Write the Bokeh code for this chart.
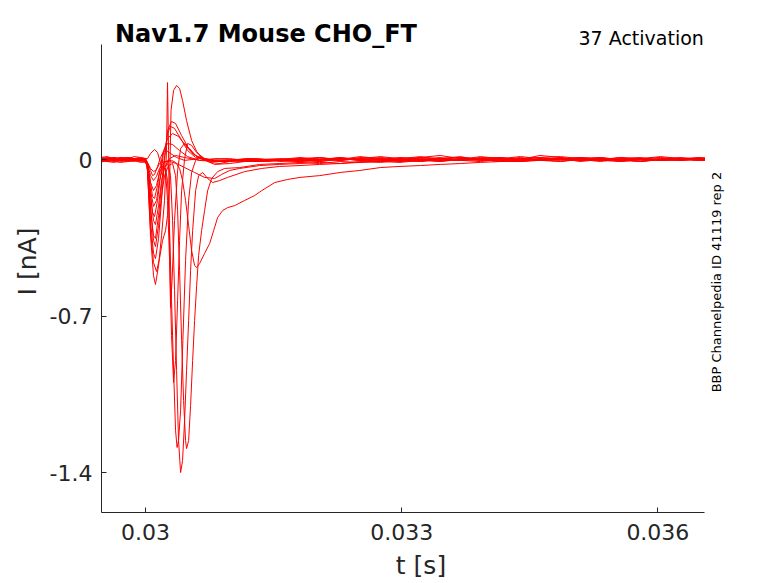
import math
from bokeh.plotting import figure
from bokeh.models import Range1d, FixedTicker, Label
from bokeh.embed import file_html
from bokeh.resources import INLINE

# ---------------- data (time in ms, current in nA) ----------------
t_pre = [29.47, 29.55, 29.63, 29.71, 29.79, 29.87, 29.94, 30.00]
t_post = [31.81, 32.04, 32.28, 32.51, 32.75, 32.98, 33.22, 33.45, 33.69, 33.92, 34.16,
          34.39, 34.62, 34.86, 35.09, 35.33, 35.56, 35.80, 36.03, 36.27, 36.50, 36.55]

e1_pre = [0.004, 0.009, 0.004, 0.000, 0.009, 0.004, 0.000, 0.004]
e1_t = [30.023, 30.059, 30.106, 30.141, 30.176, 30.200, 30.235, 30.282, 30.352, 30.458, 30.634, 30.810, 30.986, 31.162, 31.338, 31.573]
e1_i = [0.004, 0.027, 0.045, 0.031, -0.013, -0.036, -0.027, 0.004, 0.018, 0.009, -0.004, 0.004, 0.004, -0.004, -0.009, 0.000]
e1_post = [0.004, -0.004, 0.009, 0.000, -0.009, 0.004, 0.013, 0.000, -0.004, 0.009, 0.004, -0.009, 0.000, 0.009, -0.004, 0.004, 0.000, -0.009, 0.004, 0.009, 0.000, 0.004]

e2_pre = [-0.004, 0.000, 0.004, -0.004, 0.000, 0.004, -0.004, 0.000]
e2_t = [30.023, 30.059, 30.082, 30.106, 30.141, 30.176, 30.211, 30.246, 30.293, 30.364, 30.458, 30.634, 30.810, 30.986, 31.162, 31.338, 31.573]
e2_i = [-0.013, -0.049, -0.072, -0.067, -0.031, 0.009, 0.036, 0.040, 0.027, 0.009, -0.004, 0.004, -0.009, -0.004, 0.004, 0.004, -0.009]
e2_post = [-0.004, 0.009, 0.000, 0.013, 0.004, -0.004, 0.009, 0.018, 0.004, 0.000, -0.009, 0.004, 0.009, 0.000, 0.004, -0.004, 0.009, 0.004, 0.000, -0.004, 0.004, 0.000]

e3_pre = [0.009, 0.004, 0.000, 0.004, 0.009, 0.000, 0.004, 0.000]
e3_t = [30.023, 30.059, 30.082, 30.106, 30.141, 30.176, 30.211, 30.258, 30.317, 30.399, 30.493, 30.634, 30.810, 30.986, 31.162, 31.338, 31.573]
e3_i = [-0.018, -0.103, -0.165, -0.174, -0.116, -0.027, 0.040, 0.072, 0.067, 0.040, 0.013, -0.004, -0.009, -0.009, 0.000, 0.000, 0.004]
e3_post = [0.000, -0.009, 0.004, -0.004, 0.009, 0.000, -0.004, 0.004, 0.013, -0.004, 0.000, 0.009, -0.004, 0.004, 0.000, 0.009, -0.004, 0.004, 0.009, 0.000, -0.004, 0.004]

e4_pre = [0.000, -0.009, -0.004, 0.000, -0.004, -0.009, 0.000, -0.004]
e4_t = [30.023, 30.059, 30.082, 30.106, 30.141, 30.176, 30.211, 30.258, 30.317, 30.387, 30.469, 30.563, 30.692, 30.810, 30.986, 31.162, 31.338, 31.573]
e4_i = [-0.027, -0.161, -0.237, -0.255, -0.183, -0.072, 0.031, 0.094, 0.116, 0.103, 0.063, 0.022, 0.000, -0.009, -0.004, -0.009, -0.004, 0.000]
e4_post = [0.009, 0.000, -0.004, 0.004, 0.000, 0.009, 0.004, -0.004, 0.000, 0.013, 0.004, 0.000, 0.018, 0.009, -0.004, 0.000, 0.004, 0.009, -0.004, 0.004, 0.009, 0.004]

e5_pre = [0.004, 0.000, 0.009, 0.004, 0.000, 0.004, 0.009, 0.004]
e5_t = [30.023, 30.059, 30.094, 30.117, 30.153, 30.188, 30.223, 30.258, 30.293, 30.340, 30.411, 30.493, 30.587, 30.751, 30.927, 31.162, 31.338, 31.573]
e5_i = [-0.031, -0.228, -0.340, -0.353, -0.250, -0.116, 0.018, 0.116, 0.148, 0.139, 0.094, 0.040, 0.009, -0.004, -0.009, -0.004, -0.009, -0.004]
e5_post = [-0.009, -0.004, 0.004, 0.000, 0.004, -0.009, 0.000, 0.009, -0.004, 0.004, 0.009, -0.004, 0.000, 0.004, -0.009, 0.000, 0.009, -0.004, 0.000, 0.004, -0.004, 0.000]

e6_pre = [-0.009, -0.004, 0.000, -0.009, -0.004, 0.000, -0.004, -0.009]
e6_t = [30.023, 30.059, 30.094, 30.117, 30.153, 30.188, 30.223, 30.258, 30.305, 30.352, 30.423, 30.505, 30.599, 30.751, 30.927, 31.162, 31.338, 31.573]
e6_i = [-0.036, -0.273, -0.420, -0.443, -0.353, -0.183, -0.004, 0.130, 0.170, 0.161, 0.107, 0.049, 0.013, 0.000, -0.004, -0.009, 0.000, -0.004]
e6_post = [0.004, 0.009, -0.004, 0.004, 0.013, 0.004, 0.000, -0.009, 0.004, 0.000, 0.004, 0.013, 0.004, -0.004, 0.004, 0.009, 0.000, 0.004, 0.013, 0.004, 0.000, -0.004]

e7_pre = [0.000, 0.004, -0.004, 0.004, 0.000, -0.004, 0.004, 0.000]
e7_t = [30.023, 30.059, 30.094, 30.117, 30.153, 30.188, 30.223, 30.246, 30.258, 30.270, 30.282, 30.293, 30.311, 30.340, 30.376, 30.411, 30.458, 30.516, 30.587, 30.692, 30.869, 31.103, 31.338, 31.573]
e7_i = [-0.049, -0.340, -0.519, -0.559, -0.474, -0.340, -0.183, 0.040, 0.344, 0.040, -0.362, -0.662, -0.541, -0.273, -0.049, 0.049, 0.072, 0.049, 0.018, -0.004, -0.009, 0.000, -0.004, 0.000]
e7_post = [-0.004, 0.000, 0.009, -0.004, -0.009, 0.000, 0.009, 0.004, -0.004, -0.009, 0.000, 0.004, -0.004, 0.000, 0.009, 0.004, -0.009, 0.000, 0.004, -0.004, 0.004, 0.009]

e8_pre = [0.004, -0.004, 0.000, 0.009, 0.004, 0.000, -0.004, 0.004]
e8_t = [30.023, 30.059, 30.094, 30.129, 30.164, 30.200, 30.235, 30.258, 30.282, 30.299, 30.329, 30.364, 30.399, 30.434, 30.481, 30.540, 30.599, 30.657, 30.751, 30.869, 31.045, 31.221, 31.397, 31.573]
e8_i = [-0.049, -0.318, -0.461, -0.501, -0.443, -0.362, -0.318, -0.250, -0.116, 0.219, 0.309, 0.331, 0.318, 0.264, 0.174, 0.085, 0.036, 0.009, -0.013, -0.018, -0.004, 0.004, -0.004, 0.000]
e8_post = [0.000, 0.004, -0.004, 0.009, 0.004, -0.004, -0.009, 0.004, 0.009, 0.004, -0.004, 0.000, 0.009, 0.013, 0.004, -0.004, 0.000, 0.004, -0.004, 0.000, 0.009, 0.004]

d2_pre = [-0.004, -0.009, -0.013, -0.004, -0.009, -0.004, -0.013, -0.009]
d2_t = [30.023, 30.059, 30.094, 30.129, 30.164, 30.200, 30.235, 30.258, 30.282, 30.305, 30.329, 30.352, 30.376, 30.399, 30.423, 30.458, 30.493, 30.540, 30.599, 30.692, 30.810, 30.986, 31.221, 31.397, 31.573]
d2_i = [-0.022, -0.103, -0.139, -0.116, -0.058, -0.031, -0.049, -0.183, -0.452, -0.787, -0.997, -0.899, -0.631, -0.362, -0.139, 0.004, 0.072, 0.063, 0.031, 0.004, -0.004, 0.000, -0.004, -0.009, -0.004]
d2_post = [-0.009, 0.000, 0.004, -0.004, 0.000, 0.004, -0.004, 0.000, 0.009, 0.000, -0.004, -0.009, 0.000, 0.004, 0.000, -0.009, 0.004, 0.000, -0.004, 0.004, 0.000, -0.004]

d3_pre = [0.009, 0.013, 0.004, 0.009, 0.004, 0.013, 0.009, 0.004]
d3_t = [30.023, 30.059, 30.094, 30.129, 30.164, 30.200, 30.235, 30.258, 30.282, 30.305, 30.329, 30.352, 30.370, 30.387, 30.411, 30.434, 30.469, 30.505, 30.540, 30.587, 30.634, 30.704, 30.810, 30.986, 31.162, 31.338, 31.573]
d3_i = [-0.027, -0.139, -0.210, -0.183, -0.094, -0.040, -0.040, -0.094, -0.318, -0.631, -0.943, -1.212, -1.288, -1.257, -1.122, -0.854, -0.452, -0.183, -0.058, -0.004, 0.018, -0.004, -0.022, -0.018, -0.009, -0.009, -0.004]
d3_post = [-0.004, -0.009, 0.000, 0.004, -0.004, 0.000, 0.004, -0.004, 0.000, 0.004, 0.009, 0.000, -0.004, 0.004, 0.009, 0.000, -0.004, -0.009, 0.000, 0.004, -0.004, 0.000]

d4_pre = [0.000, 0.004, 0.009, 0.000, -0.004, 0.004, 0.000, -0.004]
d4_t = [30.023, 30.059, 30.094, 30.117, 30.153, 30.188, 30.223, 30.258, 30.293, 30.317, 30.340, 30.364, 30.387, 30.411, 30.434, 30.458, 30.481, 30.505, 30.528, 30.552, 30.587, 30.622, 30.669, 30.728, 30.786, 30.869, 30.962, 31.162, 31.361, 31.573]
d4_i = [-0.027, -0.161, -0.273, -0.291, -0.206, -0.094, -0.036, -0.018, -0.072, -0.273, -0.586, -0.943, -1.257, -1.400, -1.346, -1.167, -0.943, -0.720, -0.496, -0.318, -0.139, -0.072, -0.058, -0.085, -0.103, -0.094, -0.080, -0.054, -0.040, -0.031]
d4_post = [-0.027, -0.022, -0.018, -0.013, -0.009, -0.013, -0.004, -0.009, 0.000, -0.004, 0.004, 0.000, -0.004, 0.000, 0.004, -0.004, 0.000, 0.004, -0.004, 0.000, 0.004, 0.000]

d5_pre = [-0.013, -0.004, -0.009, -0.013, -0.009, -0.004, -0.009, -0.013]
d5_t = [30.023, 30.059, 30.094, 30.117, 30.153, 30.188, 30.223, 30.270, 30.317, 30.352, 30.376, 30.399, 30.423, 30.446, 30.469, 30.481, 30.505, 30.528, 30.552, 30.575, 30.599, 30.622, 30.657, 30.692, 30.728, 30.775, 30.845, 30.927, 31.103, 31.338, 31.573]
d5_i = [-0.031, -0.206, -0.362, -0.389, -0.295, -0.161, -0.072, -0.027, -0.018, -0.072, -0.228, -0.496, -0.809, -1.078, -1.257, -1.293, -1.257, -1.100, -0.899, -0.720, -0.564, -0.429, -0.318, -0.228, -0.139, -0.085, -0.054, -0.040, -0.036, -0.022, -0.018]
d5_post = [-0.013, -0.018, -0.009, -0.013, -0.004, -0.009, 0.000, -0.004, 0.004, 0.000, -0.009, -0.004, 0.004, 0.000, -0.004, 0.004, 0.000, -0.009, 0.000, 0.004, 0.000, -0.004]

d6_pre = [0.004, 0.000, -0.004, 0.004, 0.009, 0.000, 0.004, 0.000]
d6_t = [30.023, 30.059, 30.094, 30.129, 30.164, 30.211, 30.258, 30.305, 30.352, 30.399, 30.434, 30.469, 30.505, 30.540, 30.575, 30.599, 30.634, 30.692, 30.751, 30.798, 30.845, 30.904, 30.962, 31.045, 31.162, 31.279, 31.361, 31.514, 31.667]
d6_i = [-0.018, -0.072, -0.094, -0.076, -0.040, -0.018, -0.004, -0.004, -0.013, -0.040, -0.094, -0.183, -0.295, -0.407, -0.474, -0.483, -0.465, -0.420, -0.376, -0.318, -0.259, -0.228, -0.215, -0.206, -0.183, -0.161, -0.139, -0.103, -0.089]
d6_post = [-0.080, -0.072, -0.058, -0.049, -0.036, -0.031, -0.027, -0.022, -0.018, -0.013, -0.009, -0.009, -0.004, -0.009, 0.000, -0.004, -0.009, 0.000, -0.004, 0.000, -0.004, 0.000]

d7_pre = [-0.004, 0.004, 0.000, -0.004, 0.004, 0.000, -0.004, 0.004]
d7_t = [30.023, 30.059, 30.094, 30.129, 30.164, 30.223, 30.282, 30.364, 30.458, 30.575, 30.692, 30.810, 30.892, 30.986, 31.103, 31.338, 31.573]
d7_i = [-0.013, -0.040, -0.054, -0.045, -0.018, -0.009, -0.009, -0.018, -0.036, -0.058, -0.080, -0.085, -0.067, -0.049, -0.040, -0.027, -0.022]
d7_post = [-0.018, -0.013, -0.018, -0.009, -0.013, -0.004, -0.009, 0.000, -0.004, 0.000, 0.004, -0.004, 0.000, -0.009, 0.004, 0.000, -0.004, 0.004, 0.000, -0.004, 0.004, 0.000]

x_ticks = [0.030, 0.033, 0.036]
x_tick_labels = ["0.03", "0.033", "0.036"]
y_ticks = [-1.4, -0.7, 0.0]
y_tick_labels = ["-1.4", "-0.7", "0"]
x_limits = (0.0294848, 0.036551)
y_limits = (-1.5787, 0.5143)

title_text = "Nav1.7  Mouse  CHO_FT"
subtitle_text = "37  Activation"
side_text = "BBP Channelpedia ID 41119 rep 2"

# ---------------- figure ----------------
FONT = "DejaVu Sans"
AX = "#262626"

# the frame is larger than the axes box so that the title and side note can live inside it
p = figure(width=770, height=583, output_backend="svg", toolbar_location=None,
           x_range=Range1d(x_limits[0], 0.0369675), y_range=Range1d(y_limits[0], 0.6664),
           min_border_left=101, min_border_right=30, min_border_top=10, min_border_bottom=71)
p.background_fill_color = "white"
p.border_fill_color = "white"
p.outline_line_color = None
p.xgrid.visible = False
p.ygrid.visible = False

traces = [
    (e1_pre, e1_t, e1_i, e1_post), (e2_pre, e2_t, e2_i, e2_post),
    (e3_pre, e3_t, e3_i, e3_post), (e4_pre, e4_t, e4_i, e4_post),
    (e5_pre, e5_t, e5_i, e5_post), (e6_pre, e6_t, e6_i, e6_post),
    (e7_pre, e7_t, e7_i, e7_post), (e8_pre, e8_t, e8_i, e8_post),
    (d2_pre, d2_t, d2_i, d2_post), (d3_pre, d3_t, d3_i, d3_post),
    (d4_pre, d4_t, d4_i, d4_post), (d5_pre, d5_t, d5_i, d5_post),
    (d6_pre, d6_t, d6_i, d6_post), (d7_pre, d7_t, d7_i, d7_post),
]
for pre, tt, ii, post in traces:
    xs = [v / 1000.0 for v in (t_pre + tt + t_post)]
    ys = pre + ii + post
    p.line(xs, ys, line_color="#ff0000", line_width=1)

for ax in (p.xaxis[0], p.yaxis[0]):
    ax.axis_line_color = AX
    ax.axis_line_width = 1
    ax.major_tick_line_color = AX
    ax.major_tick_in = 5
    ax.major_tick_out = 0
    ax.minor_tick_line_color = None
    ax.major_label_text_font = FONT
    ax.major_label_text_font_size = "22px"
    ax.major_label_text_color = AX
    ax.axis_label_text_font = FONT
    ax.axis_label_text_font_size = "25px"
    ax.axis_label_text_font_style = "normal"
    ax.axis_label_text_color = AX

p.xaxis[0].bounds = x_limits
p.xaxis[0].ticker = FixedTicker(ticks=x_ticks)
p.xaxis[0].major_label_overrides = dict(zip(x_ticks, x_tick_labels))
p.xaxis[0].major_label_standoff = 11
p.xaxis[0].axis_label = "t [s]"
p.xaxis[0].axis_label_standoff = 8
p.yaxis[0].bounds = y_limits
p.yaxis[0].ticker = FixedTicker(ticks=y_ticks)
p.yaxis[0].major_label_overrides = dict(zip(y_ticks, y_tick_labels))
p.yaxis[0].major_label_standoff = 9
p.yaxis[0].axis_label = "I [nA]"
p.yaxis[0].axis_label_standoff = 5

p.add_layout(Label(x=0.029642, y=0.5635, text=title_text, text_font=FONT,
                   text_font_size="24px", text_font_style="bold", text_color="black",
                   text_align="left", text_baseline="alphabetic"))
p.add_layout(Label(x=0.036609, y=0.5412, text=subtitle_text, text_font=FONT,
                   text_font_size="19px", text_color="black",
                   text_align="right", text_baseline="alphabetic"))
p.add_layout(Label(x=0.036692, y=-0.5479, text=side_text, text_font=FONT,
                   text_font_size="13px", text_color="black", angle=math.pi / 2,
                   text_align="center", text_baseline="middle"))

open("out.html", "w").write(file_html(p, INLINE))
